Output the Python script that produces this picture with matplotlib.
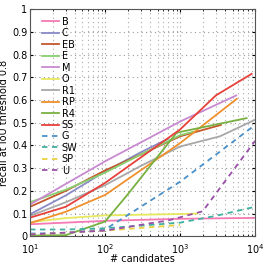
import numpy as np
import matplotlib
matplotlib.use('Agg')
import matplotlib.pyplot as plt
from matplotlib.ticker import LogLocator, NullFormatter

# recall at IoU 0.8 vs number of candidates, one (x, y) list per method
names = ['B', 'C', 'EB', 'E', 'M', 'O', 'R1', 'RP', 'R4', 'SS', 'G', 'SW', 'SP', 'U']

B_x = [10, 100, 1000, 10000]
B_y = [0.053, 0.068, 0.077, 0.081]
C_x = [10, 30, 100, 300, 700]
C_y = [0.097, 0.18, 0.285, 0.37, 0.43]
EB_x = [10, 30, 100, 300, 1000, 3500]
EB_y = [0.13, 0.2, 0.29, 0.36, 0.44, 0.49]
E_x = [10, 30, 100, 300, 1000, 1500]
E_y = [0.15, 0.205, 0.28, 0.36, 0.445, 0.46]
M_x = [10, 100, 1000, 5600]
M_y = [0.14, 0.33, 0.505, 0.62]
O_x = [10, 30, 100, 1000, 1700]
O_y = [0.062, 0.08, 0.092, 0.098, 0.1]
R1_x = [10, 30, 100, 300, 1000, 3400, 10000]
R1_y = [0.09, 0.15, 0.225, 0.31, 0.395, 0.44, 0.513]
RP_x = [10, 30, 100, 1000, 5700]
RP_y = [0.058, 0.108, 0.182, 0.41, 0.605]
R4_x = [10, 30, 100, 200, 900, 7700]
R4_y = [0.003, 0.005, 0.065, 0.184, 0.456, 0.52]
SS_x = [10, 30, 100, 1000, 3000, 9000]
SS_y = [0.082, 0.13, 0.235, 0.47, 0.62, 0.715]
G_x = [10, 30, 100, 1000, 10000]
G_y = [0.012, 0.015, 0.03, 0.24, 0.49]
SW_x = [10, 30, 100, 1000, 3000, 10000]
SW_y = [0.03, 0.03, 0.035, 0.06, 0.09, 0.13]
SP_x = [10, 100, 400, 1000]
SP_y = [0.008, 0.025, 0.04, 0.05]
U_x = [10, 100, 700, 2000, 10000]
U_y = [0.008, 0.025, 0.07, 0.11, 0.42]

xs = [B_x, C_x, EB_x, E_x, M_x, O_x, R1_x, RP_x, R4_x, SS_x, G_x, SW_x, SP_x, U_x]
ys = [B_y, C_y, EB_y, E_y, M_y, O_y, R1_y, RP_y, R4_y, SS_y, G_y, SW_y, SP_y, U_y]
colors = ['#f57ab4', '#8a8ac8', '#c4582c', '#88d070', '#c88ad0', '#e8e860', '#a8a8a8',
          '#f0902c', '#78b040', '#e8403a', '#4a90c8', '#40b0a0', '#e8d040', '#9a50a8']
dashed = ['G', 'SW', 'SP', 'U']

plt.rcParams['font.family'] = ['DejaVu Sans']
plt.rcParams['font.size'] = 7

fig = plt.figure(figsize=(2.66, 2.67), dpi=100)
ax = fig.add_axes([0.113, 0.115, 0.846, 0.851])

for name, x, y, c in zip(names, xs, ys, colors):
    if name in dashed:
        ax.plot(x, y, color=c, lw=1.3, ls=(0, (3, 2.5)), label=name)
    else:
        ax.plot(x, y, color=c, lw=1.3, label=name)

ax.set_xscale('log')
ax.set_xlim(10, 10000)
ax.set_ylim(0, 1)
ax.set_yticks(np.arange(0, 1.01, 0.1))
ax.set_yticklabels(['0', '0.1', '0.2', '0.3', '0.4', '0.5', '0.6', '0.7', '0.8', '0.9', '1'])
ax.xaxis.set_minor_locator(LogLocator(base=10, subs=np.arange(2, 10)))
ax.xaxis.set_minor_formatter(NullFormatter())

ax.grid(True, which='major', ls=(0, (1, 3)), color='#999999', lw=0.8)
ax.grid(True, which='minor', axis='x', ls=(0, (1, 3)), color='#aaaaaa', lw=0.8)
ax.set_axisbelow(True)

ax.tick_params(direction='in', which='both', top=True, right=True, length=2)
ax.tick_params(axis='x', which='major', pad=4.5)
ax.tick_params(axis='y', pad=2)
ax.tick_params(which='minor', length=1.2)
for s in ax.spines.values():
    s.set_color('#555555')
    s.set_linewidth(0.8)

ax.set_xlabel('# candidates', labelpad=-1.5)
ax.set_ylabel('recall at IoU threshold 0.8', labelpad=2)

ax.legend(loc='upper left', bbox_to_anchor=(0.02, 1.0), frameon=False, fontsize=7,
          handlelength=1.7, handletextpad=0.3, labelspacing=0.15, borderaxespad=0.4)

fig.savefig('out.png', dpi=100)
